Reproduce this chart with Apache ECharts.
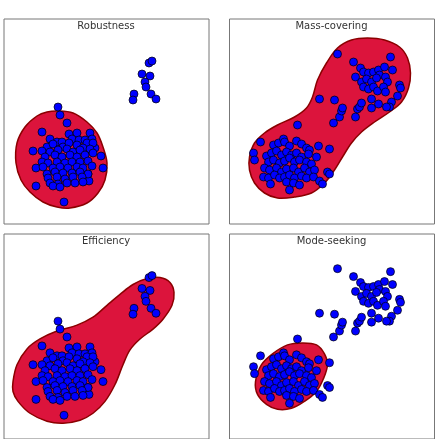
<!DOCTYPE html>
<html>
<head>
<meta charset="utf-8">
<script src="https://cdn.jsdelivr.net/npm/echarts@6/dist/echarts.min.js"></script>
<style>
  html, body { margin: 0; padding: 0; background: #fff; }
  #chart { width: 436px; height: 439px; }
</style>
</head>
<body>
<div id="chart"></div>
<script>
// panel titles
const titles = ['Robustness', 'Mass-covering', 'Efficiency', 'Mode-seeking'];

// samples, one big cluster + a small far one (Robustness / Efficiency)
const pointsA = [
    [54, 88], [56, 96], [63, 104], [38, 113], [29, 132], [32, 149], [32, 167], [60, 183],
    [97, 137], [99, 149], [84, 155], [85, 162], [86, 114], [91, 129],
    [65, 115], [73, 114],
    [46, 120], [53, 123], [58, 123], [68, 120], [75, 121], [81, 121], [88, 120],
    [43, 128], [49, 125], [59, 128], [65, 124], [73, 126], [83, 124], [89, 124], [79, 129],
    [38, 132], [46, 133], [54, 131], [63, 130], [69, 133], [76, 131], [86, 130],
    [41, 138], [51, 136], [58, 138], [66, 136], [73, 138], [81, 136], [89, 134],
    [38, 143], [44, 144], [53, 143], [61, 144], [68, 143], [76, 143], [84, 142],
    [39, 148], [49, 149], [56, 148], [64, 149], [73, 148], [79, 149], [88, 147],
    [43, 155], [51, 153], [59, 154], [68, 154], [76, 153], [84, 155],
    [44, 159], [53, 158], [61, 160], [69, 158], [78, 158],
    [46, 164], [54, 165], [63, 164], [71, 164], [79, 163],
    [49, 167], [56, 168],
    [145, 44], [148, 42], [138, 55], [146, 57], [141, 63], [142, 68],
    [130, 75], [129, 81], [147, 75], [152, 80]
];

// samples, two clusters with a bridge (Mass-covering / Mode-seeking)
const pointsB = [
    [31, 123], [44, 126], [49, 124], [54, 120], [55, 123], [60, 127], [67, 122], [72, 125],
    [77, 129], [80, 131], [89, 127], [100, 130],
    [24, 134], [37, 137], [42, 134], [47, 132], [52, 136], [57, 133], [62, 136], [67, 134],
    [72, 138], [79, 135], [87, 138],
    [25, 141], [39, 143], [44, 141], [50, 144], [55, 142], [60, 139], [65, 143], [70, 141],
    [77, 143], [82, 145],
    [35, 149], [40, 151], [47, 149], [52, 153], [57, 150], [64, 149], [69, 153], [75, 149],
    [80, 153], [85, 151],
    [34, 158], [39, 159], [45, 156], [50, 159], [55, 158], [60, 156], [65, 159], [72, 157],
    [77, 159], [84, 158], [90, 162], [98, 153], [100, 155], [93, 165],
    [41, 165], [57, 163], [64, 164], [70, 166], [60, 171],
    [68, 106], [90, 80], [105, 81], [104, 104], [110, 98], [112, 92], [113, 89],
    [126, 98], [128, 90], [130, 88], [132, 84],
    [108, 35], [124, 43], [161, 38], [163, 51], [131, 49], [134, 53], [139, 54], [144, 53],
    [149, 51], [155, 48], [150, 56], [126, 58], [132, 63], [137, 60], [142, 63], [147, 59],
    [156, 58], [158, 63], [134, 68], [139, 70], [144, 68], [148, 72], [154, 68], [156, 73],
    [170, 66], [171, 69], [168, 77], [162, 83], [160, 88], [157, 88], [142, 80], [149, 85],
    [142, 89]
];

// fitted density outlines, one per panel
const robustOutline = [
    [54, 92], [69, 94], [83, 103], [93, 114], [99, 128], [103, 144], [101, 161], [94, 174],
    [83, 184], [66, 189], [53, 188], [39, 183], [26, 173], [17, 161], [12, 144], [13, 124],
    [21, 108], [33, 97], [43, 93]
];
const massOutline = [
    [20, 138], [25, 124], [35, 114], [48, 106], [65, 98], [77, 89], [83, 78], [88, 61],
    [97, 44], [108, 29], [122, 21], [138, 19], [155, 21], [170, 28], [178, 39], [181, 54],
    [179, 69], [172, 83], [160, 93], [145, 103], [132, 113], [122, 124], [113, 138],
    [105, 151], [95, 164], [82, 174], [65, 178], [48, 179], [35, 174], [25, 164], [20, 151]
];
const efficiencyOutline = [
    [9, 149], [13, 132], [23, 116], [36, 106], [53, 98], [73, 92], [89, 84], [103, 72],
    [116, 61], [129, 51], [143, 45], [156, 44], [166, 49], [170, 59], [168, 72], [159, 86],
    [149, 96], [136, 106], [126, 117], [119, 132], [111, 152], [101, 169], [89, 181],
    [76, 188], [59, 191], [43, 189], [26, 181], [14, 169], [9, 159]
];
const modeOutline = [
    [26, 149], [32, 132], [43, 121], [58, 112], [73, 110], [87, 112], [95, 121], [98, 132],
    [94, 146], [87, 159], [75, 169], [62, 176], [48, 177], [37, 172], [28, 162]
];

const panels = [
    { left: 4, top: 19, points: pointsA, outline: robustOutline },
    { left: 229.5, top: 19, points: pointsB, outline: massOutline },
    { left: 4, top: 234, points: pointsA, outline: efficiencyOutline },
    { left: 229.5, top: 234, points: pointsB, outline: modeOutline }
];

const chart = echarts.init(document.getElementById('chart'));

const option = {
    animation: false,
    backgroundColor: '#fff',
    title: panels.map((p, i) => ({
        text: titles[i],
        left: p.left + 102,
        top: p.top + 2.5,
        textAlign: 'center',
        padding: 0,
        textStyle: {
            fontFamily: 'DejaVu Sans',
            fontSize: 10,
            fontWeight: 'normal',
            color: '#333'
        }
    })),
    grid: panels.map((p) => ({
        left: p.left,
        top: p.top,
        width: 205,
        // bottom row runs off the page, as in the source image
        height: p.top > 100 ? 207 : 205,
        show: true,
        borderColor: '#777',
        borderWidth: 1,
        backgroundColor: 'transparent'
    })),
    xAxis: panels.map((p, i) => ({
        type: 'value',
        gridIndex: i,
        min: 0,
        max: 205,
        show: false
    })),
    yAxis: panels.map((p, i) => ({
        type: 'value',
        gridIndex: i,
        min: 0,
        max: p.top > 100 ? 207 : 205,
        inverse: true,
        show: false
    })),
    series: []
};

panels.forEach((p, i) => {
    option.series.push({
        type: 'custom',
        xAxisIndex: i,
        yAxisIndex: i,
        data: [0],
        z: 1,
        silent: true,
        renderItem: (params, api) => {
            const pts = p.outline.map((pt) => api.coord(pt));
            return {
                type: 'polygon',
                shape: { points: pts, smooth: 0.35 },
                style: {
                    fill: '#dc143c',
                    stroke: '#8b0000',
                    lineWidth: 1.5
                }
            };
        }
    });
    option.series.push({
        type: 'scatter',
        xAxisIndex: i,
        yAxisIndex: i,
        data: p.points,
        z: 2,
        symbolSize: 8,
        itemStyle: {
            color: '#0000ff',
            borderColor: '#000',
            borderWidth: 0.7,
            opacity: 1
        }
    });
});

chart.setOption(option);
</script>
</body>
</html>
